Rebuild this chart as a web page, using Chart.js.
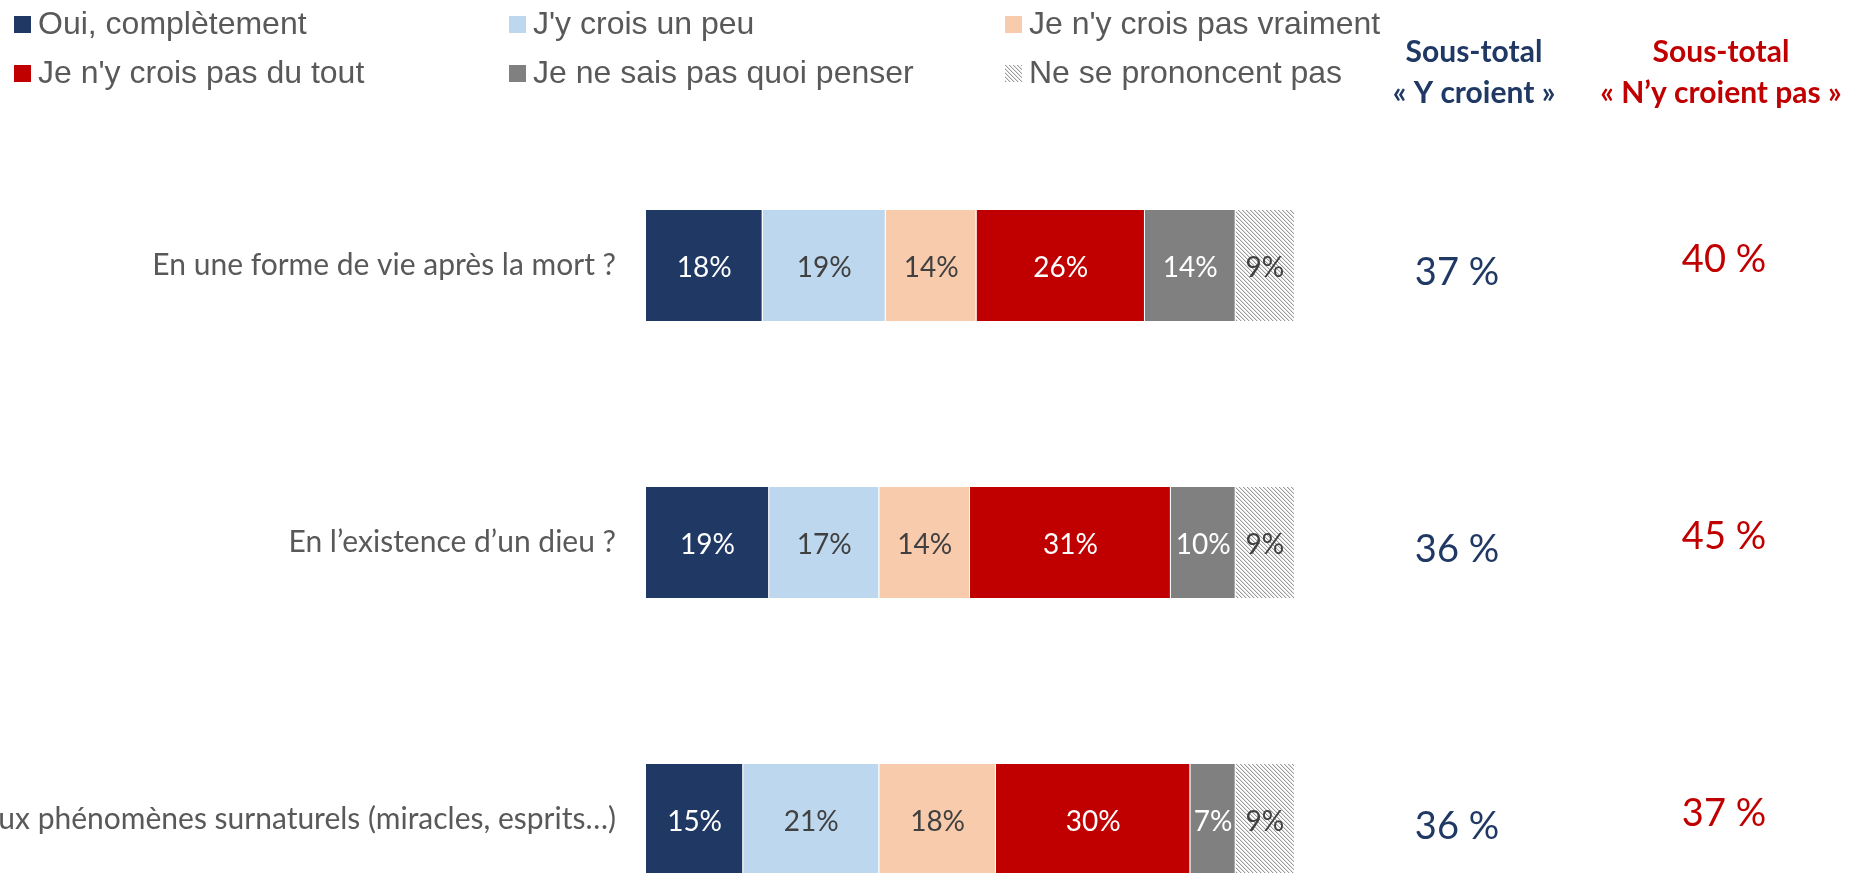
<!DOCTYPE html>
<html lang="fr">
<head>
<meta charset="utf-8">
<title>Croyances</title>
<script src="https://cdn.jsdelivr.net/npm/chart.js@4.4.1/dist/chart.umd.min.js"></script>
<style>
  html, body { margin: 0; padding: 0; background: #fff; overflow: hidden; }
  #wrap { width: 1851px; height: 873px; overflow: hidden; }
</style>
</head>
<body>
<div id="wrap"><canvas id="chart" width="1851" height="1006"></canvas></div>
<script>
// questions (y categories)
const questions = [
    'En une forme de vie après la mort ?',
    'En l\u2019existence d\u2019un dieu ?',
    'Aux phénomènes surnaturels (miracles, esprits\u2026)'
];

const seriesNames = [
    'Oui, complètement',
    "J'y crois un peu",
    "Je n'y crois pas vraiment",
    "Je n'y crois pas du tout",
    'Je ne sais pas quoi penser',
    'Ne se prononcent pas'
];

// % per answer, one value per question
const ouiCompletement = [18, 19, 15];
const croisUnPeu      = [19, 17, 21];
const pasVraiment     = [14, 14, 18];
const pasDuTout       = [26, 31, 30];
const neSaisPas       = [14, 10, 7];
const nsp             = [9, 9, 9];

// sub-totals as printed on the slide
const subtotalCroient    = [37, 36, 36];
const subtotalCroientPas = [40, 45, 37];

const NAVY = '#1F3864';
const RED = '#C00000';
const TEXT_GREY = '#595959';

function makeHatch() {
    const c = document.createElement('canvas');
    c.width = 4;
    c.height = 4;
    const g = c.getContext('2d');
    g.fillStyle = '#ffffff';
    g.fillRect(0, 0, 4, 4);
    g.fillStyle = '#9a9a9a';
    for (let i = 0; i < 4; i++) g.fillRect(i, i, 1, 1);
    g.fillStyle = '#e2e2e2';
    for (let i = 0; i < 4; i++) g.fillRect((i + 1) % 4, i, 1, 1);
    return g.createPattern(c, 'repeat');
}

const hatch = makeHatch();
const fills = [NAVY, '#BDD7EE', '#F8CBAD', RED, '#808080', hatch];
const labelColors = ['#ffffff', '#404040', '#404040', '#ffffff', '#ffffff', '#404040'];
const allValues = [ouiCompletement, croisUnPeu, pasVraiment, pasDuTout, neSaisPas, nsp];

const datasets = allValues.map((vals, i) => ({
    label: seriesNames[i],
    data: vals,
    backgroundColor: fills[i],
    borderColor: '#ffffff',
    borderWidth: { left: 0, right: i < 5 ? 1 : 0, top: 0, bottom: 0 },
    borderSkipped: false,
    barPercentage: 0.4,
    categoryPercentage: 1.0
}));

// labels in bars, legend grid, sub-total columns
const overlayPlugin = {
    id: 'overlay',
    afterDatasetsDraw(chart) {
        const ctx = chart.ctx;
        ctx.save();
        ctx.font = '28px Lato';
        ctx.textAlign = 'center';
        ctx.textBaseline = 'middle';
        chart.data.datasets.forEach((ds, i) => {
            const meta = chart.getDatasetMeta(i);
            meta.data.forEach((bar, j) => {
                ctx.fillStyle = labelColors[i];
                ctx.fillText(ds.data[j] + '%', (bar.x + bar.base) / 2, bar.y + 2);
            });
        });
        ctx.restore();
    },
    afterDraw(chart) {
        const ctx = chart.ctx;
        ctx.save();

        // legend, 3 columns x 2 rows
        const colX = [14, 509, 1005];
        const rowY = [24, 73];
        ctx.font = '32px "Liberation Sans", Arial';
        ctx.textBaseline = 'middle';
        ctx.textAlign = 'left';
        chart.data.datasets.forEach((ds, i) => {
            const x = colX[i % 3];
            const y = rowY[Math.floor(i / 3)];
            ctx.fillStyle = ds.backgroundColor;
            ctx.fillRect(x, y - 8, 17, 17);
            ctx.fillStyle = TEXT_GREY;
            ctx.fillText(ds.label, x + 24, y + 1);
        });

        // sub-total headers
        ctx.textAlign = 'center';
        ctx.font = 'bold 30px Lato';
        ctx.fillStyle = NAVY;
        ctx.fillText('Sous-total', 1474, 52);
        ctx.fillText('\u00ab Y croient \u00bb', 1474, 93);
        ctx.fillStyle = RED;
        ctx.fillText('Sous-total', 1721, 52);
        ctx.fillText('\u00ab N\u2019y croient pas \u00bb', 1721, 93);

        // sub-total values
        const yScale = chart.scales.y;
        ctx.font = '38px Lato';
        questions.forEach((q, j) => {
            const cy = yScale.getPixelForValue(j);
            ctx.fillStyle = NAVY;
            ctx.fillText(subtotalCroient[j] + ' %', 1457, cy + 7);
            ctx.fillStyle = RED;
            ctx.fillText(subtotalCroientPas[j] + ' %', 1724, cy - 6);
        });

        ctx.restore();
    }
};

new Chart(document.getElementById('chart'), {
    type: 'bar',
    data: {
        labels: questions,
        datasets: datasets
    },
    options: {
        indexAxis: 'y',
        responsive: false,
        animation: false,
        layout: {
            // bottom must exceed half a tick label + tick padding
            padding: { top: 127, bottom: 48, left: 0, right: 557 }
        },
        plugins: {
            legend: { display: false },
            tooltip: { enabled: false }
        },
        scales: {
            x: {
                stacked: true,
                min: 0,
                max: 100,
                display: false
            },
            y: {
                stacked: true,
                grid: { display: false, drawTicks: false },
                border: { display: false },
                ticks: {
                    color: TEXT_GREY,
                    font: { family: 'Lato', size: 30 },
                    padding: 30
                },
                afterFit(scale) {
                    scale.width = 646;
                }
            }
        }
    },
    plugins: [overlayPlugin]
});
</script>
</body>
</html>
